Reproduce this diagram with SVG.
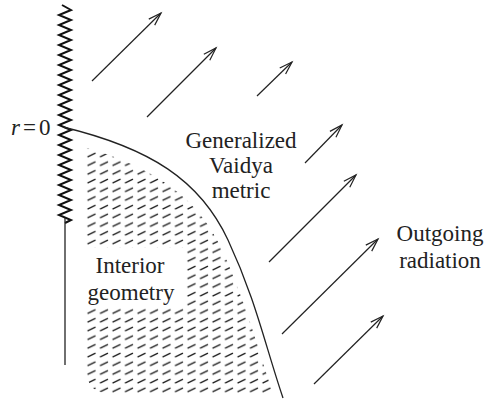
<svg xmlns="http://www.w3.org/2000/svg" width="486" height="401" viewBox="0 0 486 401">
<style>
.lbl{font-family:"Liberation Serif","DejaVu Serif","Times New Roman",Times,serif;font-size:23px;fill:#222;}
.ln{fill:none;stroke:#222;stroke-width:1.3;}
.arr{fill:none;stroke:#222;stroke-width:1.2;marker-end:url(#ah);}
</style>
<defs>
<marker id="ah" markerWidth="18" markerHeight="12" refX="15" refY="6" orient="auto" markerUnits="userSpaceOnUse" viewBox="0 0 18 12">
<path d="M2,1.8 L15,6 L2,10.2" fill="none" stroke="#222" stroke-width="1.2"/>
</marker>
<pattern id="hatch" patternUnits="userSpaceOnUse" x="85" y="151" width="12.5" height="8.7">
<path d="M2.5,6 L10.5,2" stroke="#1a1a1a" stroke-width="1.3" fill="none"/>
</pattern>
<clipPath id="underCurve">
<path d="M61,141 C148,162 198,194 224,254 S261,359 279,412 L86,412 L86,141 Z"/>
</clipPath>
<clipPath id="interiorShape">
<path clip-rule="evenodd" d="M86,130 L300,130 L300,394 L112,394 Q86,394 86,368 Z M86,248 L184,248 L184,308 L86,308 Z"/>
</clipPath>
</defs>

<g id="interior">
<g clip-path="url(#underCurve)">
<g clip-path="url(#interiorShape)">
<rect x="86" y="130" width="214" height="270" fill="url(#hatch)"/>
</g>
</g>
<text class="lbl" x="130" y="273" text-anchor="middle">Interior</text>
<text class="lbl" x="131" y="300" text-anchor="middle">geometry</text>
</g>

<g id="singularity">
<path d="M62,5 l9,5 l-12,5 l12,5 l-12,5 l12,5 l-12,5 l12,5 l-12,5 l12,5 l-12,5 l12,5 l-12,5 l12,5 l-12,5 l12,5 l-12,5 l12,5 l-12,5 l12,5 l-12,5 l12,5 l-12,5 l12,5 l-12,5 l12,5 l-12,5 l12,5 l-12,5 l12,5 l-12,5 l12,5 l-12,5 l12,5 l-12,5 l12,5 l-12,5 l12,5 l-12,5 l12,5 l-12,5 l12,5 l-12,5 l12,5 l-6,3" fill="none" stroke="#111" stroke-width="2" stroke-linejoin="miter"/>
<text class="lbl" x="11" y="135" font-style="italic">r</text>
<text class="lbl" x="23" y="135">=</text>
<text class="lbl" x="39" y="135">0</text>
</g>

<g id="center-line">
<path class="ln" d="M65,218 L65,365"/>
</g>

<g id="boundary">
<path class="ln" d="M63,127 C150,148 200,180 228,240 S265,345 283,398"/>
</g>

<g id="vaidya">
<text class="lbl" x="241" y="148" text-anchor="middle">Generalized</text>
<text class="lbl" x="241" y="173" text-anchor="middle">Vaidya</text>
<text class="lbl" x="241" y="198" text-anchor="middle">metric</text>
</g>

<g id="radiation-label">
<text class="lbl" x="440" y="241" text-anchor="middle">Outgoing</text>
<text class="lbl" x="440" y="268" text-anchor="middle">radiation</text>
</g>

<g id="connectors">
<line class="arr" x1="92" y1="81" x2="161" y2="13"/>
<line class="arr" x1="147" y1="117" x2="216" y2="48"/>
<line class="arr" x1="257" y1="96" x2="292" y2="62"/>
<line class="arr" x1="305" y1="163" x2="342" y2="125"/>
<line class="arr" x1="269" y1="262" x2="356" y2="175"/>
<line class="arr" x1="282" y1="334" x2="378" y2="239"/>
<line class="arr" x1="314" y1="384" x2="383" y2="316"/>
</g>
</svg>
